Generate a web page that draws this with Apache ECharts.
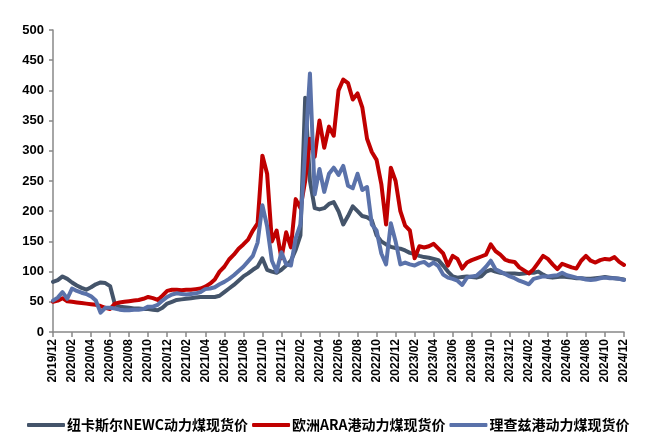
<!DOCTYPE html>
<html>
<head>
<meta charset="utf-8">
<script src="https://cdn.jsdelivr.net/npm/echarts@6/dist/echarts.min.js"></script>
<style>html,body{margin:0;padding:0;background:#fff;}#c{width:646px;height:439px;}</style>
</head>
<body>
<div id="c"></div>
<script>
// half-month sample dates, 2019/12 .. 2024/12
const categories = [
'2019/12/01','2019/12/16',
'2020/01/01','2020/01/16','2020/02/01','2020/02/16','2020/03/01','2020/03/16','2020/04/01','2020/04/16','2020/05/01','2020/05/16','2020/06/01','2020/06/16',
'2020/07/01','2020/07/16','2020/08/01','2020/08/16','2020/09/01','2020/09/16','2020/10/01','2020/10/16','2020/11/01','2020/11/16','2020/12/01','2020/12/16',
'2021/01/01','2021/01/16','2021/02/01','2021/02/16','2021/03/01','2021/03/16','2021/04/01','2021/04/16','2021/05/01','2021/05/16','2021/06/01','2021/06/16',
'2021/07/01','2021/07/16','2021/08/01','2021/08/16','2021/09/01','2021/09/16','2021/10/01','2021/10/16','2021/11/01','2021/11/16','2021/12/01','2021/12/16',
'2022/01/01','2022/01/16','2022/02/01','2022/02/16','2022/03/01','2022/03/16','2022/04/01','2022/04/16','2022/05/01','2022/05/16','2022/06/01','2022/06/16',
'2022/07/01','2022/07/16','2022/08/01','2022/08/16','2022/09/01','2022/09/16','2022/10/01','2022/10/16','2022/11/01','2022/11/16','2022/12/01','2022/12/16',
'2023/01/01','2023/01/16','2023/02/01','2023/02/16','2023/03/01','2023/03/16','2023/04/01','2023/04/16','2023/05/01','2023/05/16','2023/06/01','2023/06/16',
'2023/07/01','2023/07/16','2023/08/01','2023/08/16','2023/09/01','2023/09/16','2023/10/01','2023/10/16','2023/11/01','2023/11/16','2023/12/01','2023/12/16',
'2024/01/01','2024/01/16','2024/02/01','2024/02/16','2024/03/01','2024/03/16','2024/04/01','2024/04/16','2024/05/01','2024/05/16','2024/06/01','2024/06/16',
'2024/07/01','2024/07/16','2024/08/01','2024/08/16','2024/09/01','2024/09/16','2024/10/01','2024/10/16','2024/11/01','2024/11/16','2024/12/01'
];

const seriesNames = ['纽卡斯尔NEWC动力煤现货价', '欧洲ARA港动力煤现货价', '理查兹港动力煤现货价'];

const newc = [
83,86,92,88,82,77,73,70,74,79,82,81,76,46,42,41,40,39,39,38,
38,37,36,40,47,50,53,54,55,56,57,58,58,58,58,60,66,72,78,85,
92,97,103,108,122,103,100,98,103,110,118,136,160,388,250,205,203,205,212,215,
200,178,192,208,200,192,190,185,160,150,145,141,139,138,135,131,129,126,124,123,
121,119,110,100,92,90,91,92,91,90,92,100,103,100,98,97,97,97,96,97,
98,98,100,95,91,90,91,92,91,90,89,89,88,88,89,90,91,90,89,88,
87
];

const ara = [
50,52,56,51,50,49,48,47,46,45,43,40,38,47,49,50,51,52,53,55,
58,56,53,60,68,70,70,69,70,70,71,72,75,80,87,100,108,120,128,138,
145,153,168,180,292,262,150,168,122,165,140,220,205,250,320,290,350,305,340,325,
400,418,412,385,395,372,320,298,285,245,178,272,250,200,176,168,122,142,140,142,
146,138,130,110,126,121,105,115,119,122,125,128,145,134,128,120,117,116,107,102,
97,104,115,126,121,112,104,113,110,107,105,118,126,118,115,119,121,120,124,116,
111
];

const richards = [
52,57,66,55,72,68,65,63,59,52,32,40,40,39,37,36,36,37,37,38,
42,42,45,52,58,62,64,63,62,63,64,66,71,72,74,79,83,88,94,101,
108,117,126,148,210,175,118,100,132,112,110,155,178,300,428,228,270,232,262,272,
260,275,242,238,262,235,240,178,168,130,112,180,150,112,115,112,110,114,116,110,
115,109,95,90,88,85,78,90,92,93,100,108,118,104,100,96,92,89,85,82,
79,88,90,92,92,93,94,98,94,92,90,89,87,86,87,89,90,89,89,88,
86
];

const tickLabels = ['2019/12','2020/02','2020/04','2020/06','2020/08','2020/10','2020/12','2021/02','2021/04','2021/06','2021/08','2021/10','2021/12','2022/02','2022/04','2022/06','2022/08','2022/10','2022/12','2023/02','2023/04','2023/06','2023/08','2023/10','2023/12','2024/02','2024/04','2024/06','2024/08','2024/10','2024/12'];

const colors = ['#44546A', '#C00000', '#5A72AA'];
const FONT = 'Liberation Sans, Arial, Noto Sans CJK SC, sans-serif';

const chart = echarts.init(document.getElementById('c'), null, {renderer: 'canvas'});
chart.setOption({
  animation: false,
  backgroundColor: '#fff',
  textStyle: {fontFamily: FONT},
  color: colors,
  grid: {left: 53, right: 22, top: 30, bottom: 107},
  legend: {
    data: seriesNames,
    left: 22,
    top: 413,
    icon: 'roundRect',
    itemWidth: 38,
    itemHeight: 4,
    itemGap: 4,
    textStyle: {fontFamily: 'Noto Sans CJK SC, Liberation Sans, sans-serif', fontSize: 14, fontWeight: 'bold', color: '#000', padding: [0, 0, 0, -3]}
  },
  xAxis: {
    type: 'category',
    data: categories,
    boundaryGap: false,
    axisLine: {lineStyle: {color: '#888', width: 1.5}},
    axisTick: {show: true, interval: 3, length: 5, lineStyle: {color: '#888', width: 1.5}},
    axisLabel: {
      interval: 3,
      rotate: 90,
      margin: 7,
      fontSize: 12,
      fontWeight: 'bold',
      color: '#000',
      formatter: function (v) { const s = v.slice(0, 7); return tickLabels.indexOf(s) >= 0 ? s : ''; }
    },
    splitLine: {show: false}
  },
  yAxis: {
    type: 'value',
    min: 0,
    max: 500,
    interval: 50,
    axisLine: {show: true, lineStyle: {color: '#888', width: 1.5}},
    axisTick: {show: true, length: 4, lineStyle: {color: '#888', width: 1.5}},
    axisLabel: {fontSize: 13, fontWeight: 'bold', color: '#000', margin: 9},
    splitLine: {show: false}
  },
  series: [
    {name: seriesNames[0], type: 'line', data: newc, symbol: 'none', lineStyle: {width: 4, color: colors[0], cap: 'round', join: 'round'}, z: 2},
    {name: seriesNames[1], type: 'line', data: ara, symbol: 'none', lineStyle: {width: 4, color: colors[1], cap: 'round', join: 'round'}, z: 3},
    {name: seriesNames[2], type: 'line', data: richards, symbol: 'none', lineStyle: {width: 4, color: colors[2], cap: 'round', join: 'round'}, z: 4}
  ]
});
</script>
</body>
</html>
